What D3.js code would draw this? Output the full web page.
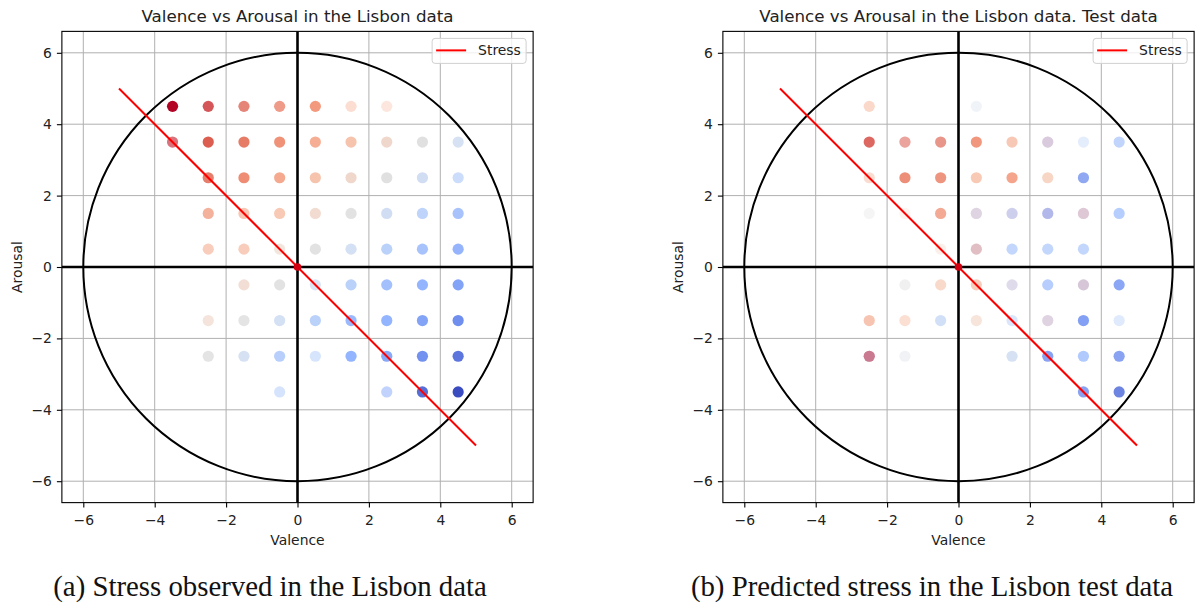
<!DOCTYPE html>
<html>
<head>
<meta charset="utf-8">
<script src="https://cdn.jsdelivr.net/npm/d3@7"></script>
<style>
  html, body { margin: 0; padding: 0; background: #fff; }
  svg { display: block; }
  .tick text { font-family: "DejaVu Sans", sans-serif; font-size: 13.9px; fill: #222; }
</style>
</head>
<body>
<svg id="fig" width="1196" height="606"></svg>
<script>
// ---- data -------------------------------------------------------------
const tickValues = [-6, -4, -2, 0, 2, 4, 6];
const stressLine = { valence: [-5, 5], arousal: [5, -5] };
const circleRadius = 6;

// Panel (a): observed stress on the valence / arousal grid
const obsValence = [
  -3.5, -2.5, -1.5, -0.5, 0.5, 1.5, 2.5,
  -3.5, -2.5, -1.5, -0.5, 0.5, 1.5, 2.5, 3.5, 4.5,
  -2.5, -1.5, -0.5, 0.5, 1.5, 2.5, 3.5, 4.5,
  -2.5, -1.5, -0.5, 0.5, 1.5, 2.5, 3.5, 4.5,
  -2.5, -1.5, -0.5, 0.5, 1.5, 2.5, 3.5, 4.5,
  -1.5, -0.5, 0.5, 1.5, 2.5, 3.5, 4.5,
  -2.5, -1.5, -0.5, 0.5, 1.5, 2.5, 3.5, 4.5,
  -2.5, -1.5, -0.5, 0.5, 1.5, 2.5, 3.5, 4.5,
  -0.5, 2.5, 3.5, 4.5
];
const obsArousal = [
  4.5, 4.5, 4.5, 4.5, 4.5, 4.5, 4.5,
  3.5, 3.5, 3.5, 3.5, 3.5, 3.5, 3.5, 3.5, 3.5,
  2.5, 2.5, 2.5, 2.5, 2.5, 2.5, 2.5, 2.5,
  1.5, 1.5, 1.5, 1.5, 1.5, 1.5, 1.5, 1.5,
  0.5, 0.5, 0.5, 0.5, 0.5, 0.5, 0.5, 0.5,
  -0.5, -0.5, -0.5, -0.5, -0.5, -0.5, -0.5,
  -1.5, -1.5, -1.5, -1.5, -1.5, -1.5, -1.5, -1.5,
  -2.5, -2.5, -2.5, -2.5, -2.5, -2.5, -2.5, -2.5,
  -3.5, -3.5, -3.5, -3.5
];
const obsStress = [
  1.00, 0.93, 0.88, 0.82, 0.76, 0.70, 0.66,
  0.95, 0.89, 0.83, 0.78, 0.72, 0.66, 0.58, 0.50, 0.42,
  0.86, 0.79, 0.73, 0.66, 0.58, 0.50, 0.42, 0.37,
  0.77, 0.71, 0.66, 0.58, 0.50, 0.42, 0.36, 0.30,
  0.70, 0.66, 0.56, 0.50, 0.42, 0.36, 0.30, 0.24,
  0.58, 0.50, 0.42, 0.36, 0.30, 0.25, 0.20,
  0.58, 0.50, 0.42, 0.36, 0.26, 0.25, 0.20, 0.14,
  0.50, 0.42, 0.34, 0.37, 0.25, 0.20, 0.15, 0.08,
  0.36, 0.22, 0.06, 0.00
];
const obsWeight = [
  1.00, 0.85, 0.75, 0.75, 0.95, 0.40, 0.35,
  0.65, 0.95, 0.95, 0.95, 0.90, 0.85, 0.80, 0.90, 0.70,
  0.85, 0.95, 0.90, 0.85, 0.80, 0.90, 0.80, 0.70,
  0.70, 0.65, 0.75, 0.70, 0.85, 0.80, 0.85, 0.90,
  0.60, 0.70, 0.55, 0.85, 0.75, 0.90, 0.90, 0.90,
  0.65, 0.85, 0.65, 0.90, 0.95, 0.95, 0.95,
  0.55, 0.80, 0.75, 0.90, 0.90, 0.95, 0.95, 0.95,
  0.80, 0.70, 0.85, 0.55, 0.95, 0.90, 0.95, 0.95,
  0.55, 0.50, 0.95, 1.00
];

// Panel (b): predicted stress per test sample (samples may share a cell)
const predValence = [
  -2.5, 0.5,
  -2.5, -1.5, -1.5, -0.5, 0.5, 1.5, 2.5, 2.5, 3.5, 4.5,
  -2.5, -1.5, -0.5, 0.5, 1.5, 2.5, 3.5,
  -2.5, -1.5, -0.5, 0.5, 0.5, 1.5, 1.5, 2.5, 2.5, 3.5, 3.5, 4.5,
  -0.5, 0.5, 0.5, 1.5, 2.5, 3.5,
  -1.5, -0.5, 0.5, 1.5, 1.5, 2.5, 3.5, 3.5, 4.5,
  -2.5, -1.5, -0.5, 0.5, 1.5, 2.5, 2.5, 3.5, 4.5,
  -2.5, -2.5, -2.5, -1.5, 1.5, 2.5, 3.5, 4.5,
  3.5, 4.5
];
const predArousal = [
  4.5, 4.5,
  3.5, 3.5, 3.5, 3.5, 3.5, 3.5, 3.5, 3.5, 3.5, 3.5,
  2.5, 2.5, 2.5, 2.5, 2.5, 2.5, 2.5,
  1.5, 1.5, 1.5, 1.5, 1.5, 1.5, 1.5, 1.5, 1.5, 1.5, 1.5, 1.5,
  0.5, 0.5, 0.5, 0.5, 0.5, 0.5,
  -0.5, -0.5, -0.5, -0.5, -0.5, -0.5, -0.5, -0.5, -0.5,
  -1.5, -1.5, -1.5, -1.5, -1.5, -1.5, -1.5, -1.5, -1.5,
  -2.5, -2.5, -2.5, -2.5, -2.5, -2.5, -2.5, -2.5,
  -3.5, -3.5
];
const predStress = [
  0.68, 0.45,
  0.90, 0.92, 0.85, 0.88, 0.78, 0.72, 0.85, 0.20, 0.38, 0.32,
  0.68, 0.80, 0.80, 0.66, 0.76, 0.62, 0.15,
  0.50, 0.62, 0.78, 0.80, 0.25, 0.20, 0.80, 0.15, 0.85, 0.25, 0.85, 0.30,
  0.60, 0.85, 0.20, 0.33, 0.33, 0.33,
  0.50, 0.64, 0.70, 0.25, 0.75, 0.28, 0.20, 0.80, 0.18,
  0.74, 0.64, 0.40, 0.60, 0.38, 0.25, 0.80, 0.18, 0.38,
  0.97, 0.97, 0.20, 0.47, 0.42, 0.15, 0.30, 0.15,
  0.15, 0.08
];
const predWeight = [
  0.50, 0.30,
  0.85, 0.35, 0.30, 0.65, 0.90, 0.60, 0.25, 0.25, 0.40, 0.70,
  0.45, 0.90, 0.85, 0.75, 0.85, 0.70, 0.75,
  0.30, 0.20, 0.75, 0.25, 0.25, 0.40, 0.10, 0.55, 0.08, 0.30, 0.25, 0.75,
  0.30, 0.40, 0.15, 0.70, 0.70, 0.70,
  0.45, 0.60, 0.60, 0.30, 0.15, 0.70, 0.35, 0.25, 0.85,
  0.60, 0.50, 0.70, 0.50, 0.55, 0.30, 0.20, 0.90, 0.45,
  0.45, 0.30, 0.15, 0.35, 0.70, 0.80, 0.80, 0.80,
  0.80, 0.85
];

const panels = [
  { x0: 297.5, title: "Valence vs Arousal in the Lisbon data",
    caption: "(a) Stress observed in the Lisbon data", captionX: 270,
    valence: obsValence, arousal: obsArousal, stress: obsStress, weight: obsWeight },
  { x0: 958.5, title: "Valence vs Arousal in the Lisbon data. Test data",
    caption: "(b) Predicted stress in the Lisbon test data", captionX: 932,
    valence: predValence, arousal: predArousal, stress: predStress, weight: predWeight }
];

// ---- colour map (coolwarm) --------------------------------------------
const coolwarm = d3.scaleLinear()
  .domain([0, 0.125, 0.25, 0.375, 0.5, 0.625, 0.75, 0.875, 1])
  .range(["#3b4cc0", "#6282ea", "#8db0fe", "#b8d0f9", "#dddddd",
          "#f5c4ac", "#f49a7b", "#de604d", "#b40426"])
  .interpolate(d3.interpolateRgb)
  .clamp(true);

// ---- drawing -----------------------------------------------------------
const svg = d3.select("#fig");
const half = 6.6;           // axis limits: [-6.6, 6.6]
const pxPerUnit = 35.7;
const yCenter = 267;

panels.forEach((p, idx) => {
  const x = d3.scaleLinear().domain([-half, half])
    .range([p.x0 - half * pxPerUnit, p.x0 + half * pxPerUnit]);
  const y = d3.scaleLinear().domain([-half, half])
    .range([yCenter + half * pxPerUnit, yCenter - half * pxPerUnit]);
  const [left, right] = x.range();
  const [bottom, top] = y.range();

  const g = svg.append("g");
  const clipId = "clip" + idx;
  g.append("clipPath").attr("id", clipId).append("rect")
    .attr("x", left).attr("y", top).attr("width", right - left).attr("height", bottom - top);

  // grid
  const grid = g.append("g").attr("stroke", "#b0b0b0").attr("stroke-width", 1);
  grid.selectAll(".gx").data(tickValues).join("line")
    .attr("x1", d => x(d)).attr("x2", d => x(d)).attr("y1", top).attr("y2", bottom);
  grid.selectAll(".gy").data(tickValues).join("line")
    .attr("y1", d => y(d)).attr("y2", d => y(d)).attr("x1", left).attr("x2", right);

  const plot = g.append("g").attr("clip-path", `url(#${clipId})`);

  // scatter
  const idxs = d3.range(p.valence.length);
  plot.append("g").selectAll("circle").data(idxs).join("circle")
    .attr("cx", i => x(p.valence[i]))
    .attr("cy", i => y(p.arousal[i]))
    .attr("r", 5.6)
    .attr("fill", i => coolwarm(p.stress[i]))
    .attr("fill-opacity", i => p.weight[i]);

  // unit circle of radius 6
  plot.append("ellipse")
    .attr("cx", x(0)).attr("cy", y(0))
    .attr("rx", x(circleRadius) - x(0)).attr("ry", y(0) - y(circleRadius))
    .attr("fill", "none").attr("stroke", "#000").attr("stroke-width", 2);

  // quadrant axes
  plot.append("line").attr("x1", left).attr("x2", right).attr("y1", y(0)).attr("y2", y(0))
    .attr("stroke", "#000").attr("stroke-width", 2.6);
  plot.append("line").attr("y1", top).attr("y2", bottom).attr("x1", x(0)).attr("x2", x(0))
    .attr("stroke", "#000").attr("stroke-width", 2.6);

  // stress diagonal
  const line = d3.line().x(d => x(d[0])).y(d => y(d[1]));
  plot.append("path")
    .datum(d3.zip(stressLine.valence, stressLine.arousal))
    .attr("d", line).attr("fill", "none").attr("stroke", "#ff0000").attr("stroke-width", 2);
  plot.append("circle").attr("cx", x(0)).attr("cy", y(0)).attr("r", 3.8).attr("fill", "#d00010");

  // frame
  g.append("rect").attr("x", left).attr("y", top)
    .attr("width", right - left).attr("height", bottom - top)
    .attr("fill", "none").attr("stroke", "#000").attr("stroke-width", 1.1);

  // axes
  const xAxis = d3.axisBottom(x).tickValues(tickValues).tickSize(5).tickPadding(5)
    .tickFormat(d3.format("d"));
  const yAxis = d3.axisLeft(y).tickValues(tickValues).tickSize(5).tickPadding(5)
    .tickFormat(d3.format("d"));
  const gx = g.append("g").attr("transform", `translate(0,${bottom})`).call(xAxis);
  const gy = g.append("g").attr("transform", `translate(${left},0)`).call(yAxis);
  [gx, gy].forEach(a => {
    a.select(".domain").remove();
    a.selectAll(".tick line").attr("stroke", "#000").attr("stroke-width", 1.1);
  });
  gx.selectAll(".tick text").attr("dy", "0.9em");

  // labels
  g.append("text").attr("x", (left + right) / 2).attr("y", top - 9)
    .attr("text-anchor", "middle")
    .style("font-family", "DejaVu Sans, sans-serif").style("font-size", "16.7px").attr("fill", "#222")
    .text(p.title);
  g.append("text").attr("x", (left + right) / 2).attr("y", bottom + 42)
    .attr("text-anchor", "middle")
    .style("font-family", "DejaVu Sans, sans-serif").style("font-size", "13.9px").attr("fill", "#222")
    .text("Valence");
  g.append("text")
    .attr("transform", `translate(${left - 40},${(top + bottom) / 2}) rotate(-90)`)
    .attr("text-anchor", "middle")
    .style("font-family", "DejaVu Sans, sans-serif").style("font-size", "13.9px").attr("fill", "#222")
    .text("Arousal");

  // legend
  const lg = g.append("g").attr("transform", `translate(${right - 101},${top + 7})`);
  lg.append("rect").attr("width", 94).attr("height", 25).attr("rx", 3)
    .attr("fill", "#fff").attr("fill-opacity", 0.8)
    .attr("stroke", "#d0d0d0").attr("stroke-width", 1);
  lg.append("line").attr("x1", 4).attr("x2", 34).attr("y1", 12).attr("y2", 12)
    .attr("stroke", "#ff0000").attr("stroke-width", 2);
  lg.append("text").attr("x", 46).attr("y", 17)
    .style("font-family", "DejaVu Sans, sans-serif").style("font-size", "13.9px").attr("fill", "#222")
    .text("Stress");

  // caption
  svg.append("text").attr("x", p.captionX).attr("y", 596)
    .attr("text-anchor", "middle")
    .style("font-family", "Liberation Serif, Times New Roman, serif").style("font-size", "28.8px")
    .attr("fill", "#111")
    .text(p.caption);
});
</script>
</body>
</html>
